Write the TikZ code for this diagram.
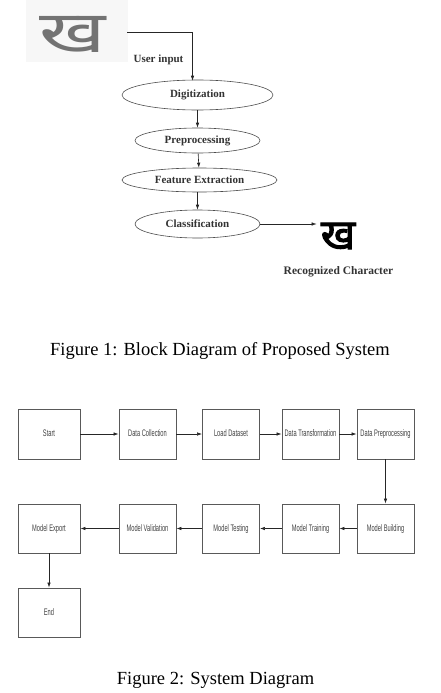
\documentclass[tikz,border=0pt]{standalone}
\usepackage{fontspec}
\usepackage{graphicx}
\setmainfont{Liberation Serif}
\newfontfamily\devafont[Script=Devanagari]{Noto Sans}
\newfontfamily\devabold[Script=Devanagari,FakeBold=2.5]{Noto Sans}
\newfontfamily\boxfont{Liberation Sans}
\usetikzlibrary{shapes.geometric,arrows.meta,calc}
\newcommand{\btxt}[1]{\scalebox{0.6}[1]{#1}}
\tikzset{
  ell/.style={draw=black!70, ellipse, inner sep=0pt, line width=0.6pt,
    font=\bfseries\fontsize{11}{13}\selectfont, text=black!80},
  arr/.style={-{Latex[length=5pt,width=3.5pt]}, line width=0.6pt, draw=black!85},
  blk/.style={draw=black!65, line width=0.9pt, minimum width=57pt, minimum height=50pt,
    inner sep=0pt, text height=7pt, text depth=2pt,
    font=\boxfont\fontsize{9.5}{10}\selectfont, text=black!75},
  capt/.style={font=\fontsize{18.5}{20}\selectfont, inner sep=0pt},
}
\begin{document}
\begin{tikzpicture}[x=1pt,y=-1pt]
\useasboundingbox (0,0) rectangle (441,693);
% ---------- Figure 1 ----------
\fill[black!3] (26,0) rectangle (128,62);
\node[inner sep=0pt, font=\devafont\fontsize{58}{58}\selectfont, text=black!55] (hand) at (73,34) {\scalebox{1.4}[1]{ख}};
\coordinate (ui) at (127,32);
\node[ell, minimum width=151pt, minimum height=30pt] (dig) at (197.5,95) {Digitization};
\node[ell, minimum width=125pt, minimum height=25pt] (pre) at (197.5,140.5) {Preprocessing};
\node[ell, minimum width=155pt, minimum height=24pt] (fe) at (199.5,180) {Feature Extraction};
\node[ell, minimum width=125pt, minimum height=28pt] (cls) at (197.5,224) {Classification};
\node[inner sep=0pt, font=\bfseries\fontsize{11}{13}\selectfont, text=black!80] (uil) at (158.5,60) {User input};
\node[inner sep=0pt, font=\devabold\fontsize{42}{42}\selectfont] (rec) at (338,236) {ख};
\node[inner sep=0pt, font=\bfseries\fontsize{11.5}{13}\selectfont, text=black!80] (recl) at (338.5,272) {Recognized Character};
\draw[arr] (ui) -| ($(dig.north)+(-5,1)$);
\draw[arr] (dig) -- (pre);
\draw[arr] (pre) -- (fe);
\draw[arr] (fe.south -| cls.north) -- (cls);
\draw[arr] (cls.east) -- ($(rec.west |- cls.east)+(-4,0)$);
\node[capt] (cap1) at (220,351) {Figure 1: Block Diagram of Proposed System};
% ---------- Figure 2 ----------
\node[blk, minimum width=62pt] (start) at (49,434) {\btxt{Start}};
\node[blk] (dc) at (147.5,434) {\btxt{Data Collection}};
\node[blk] (ld) at (231,434) {\btxt{Load Dataset}};
\node[blk] (dt) at (310.5,434) {\btxt{Data Transformation}};
\node[blk] (dp) at (385.5,434) {\btxt{Data Preprocessing}};
\node[blk, minimum width=62pt, minimum height=49pt] (me) at (49,528.5) {\btxt{Model Export}};
\node[blk, minimum height=49pt] (mv) at (147.5,528.5) {\btxt{Model Validation}};
\node[blk, minimum height=49pt] (mt) at (231,528.5) {\btxt{Model Testing}};
\node[blk, minimum height=49pt] (mtr) at (310.5,528.5) {\btxt{Model Training}};
\node[blk, minimum height=49pt] (mb) at (385.5,528.5) {\btxt{Model Building}};
\node[blk, minimum width=62pt, minimum height=49pt] (end) at (49,612.5) {\btxt{End}};
\draw[arr] (start) -- (dc);
\draw[arr] (dc) -- (ld);
\draw[arr] (ld) -- (dt);
\draw[arr] (dt) -- (dp);
\draw[arr] (dp) -- (mb);
\draw[arr] (mb) -- (mtr);
\draw[arr] (mtr) -- (mt);
\draw[arr] (mt) -- (mv);
\draw[arr] (mv) -- (me);
\draw[arr] (me) -- (end);
\node[capt] (cap2) at (215.5,680) {Figure 2: System Diagram};
\end{tikzpicture}
\end{document}
